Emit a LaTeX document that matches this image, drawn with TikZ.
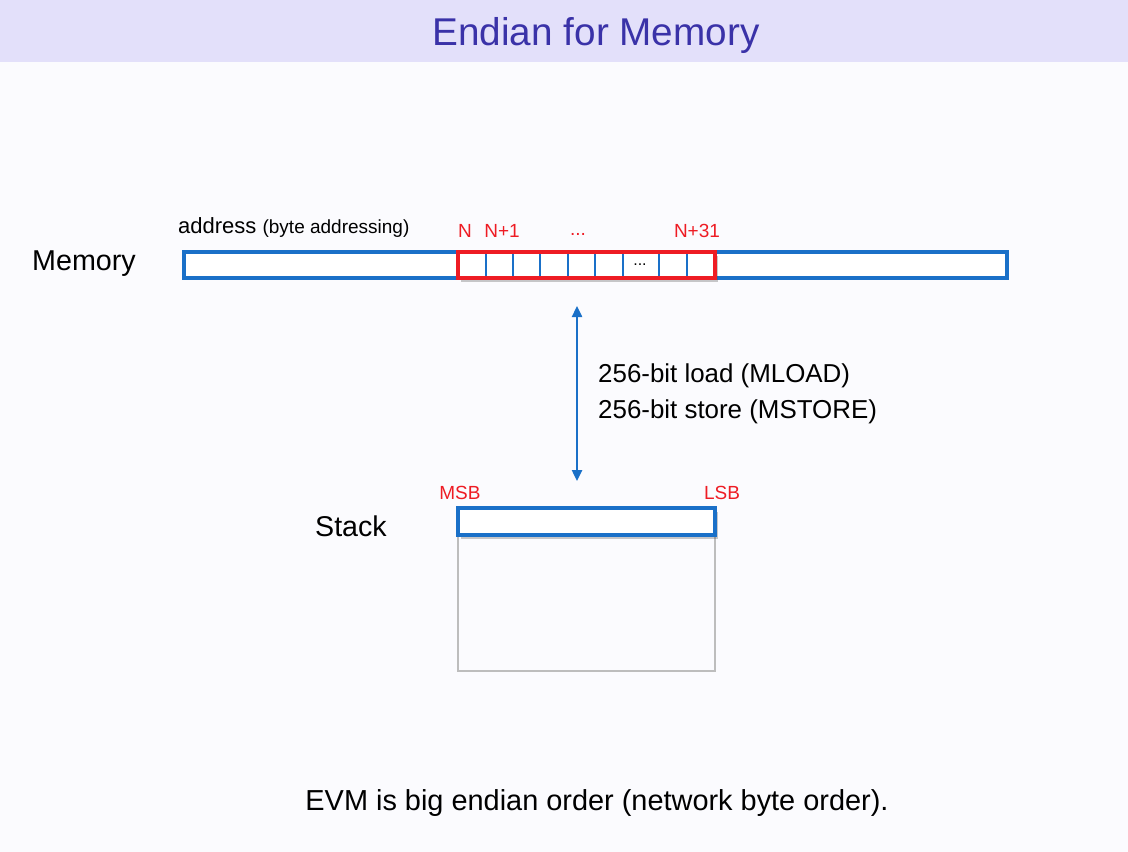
\documentclass[tikz,border=0pt]{standalone}
\usepackage{fontspec}
\setmainfont{Liberation Sans}
\usetikzlibrary{shadows,arrows.meta}
\definecolor{bg}{HTML}{FBFBFE}
\definecolor{band}{HTML}{E3E0FA}
\definecolor{titlec}{HTML}{3A32A8}
\definecolor{memblue}{HTML}{1A70C8}
\definecolor{memred}{HTML}{EE1C24}
\definecolor{stackgray}{HTML}{BDBDBD}
\tikzset{
  fs/.style={font=\fontsize{#1}{#1}\selectfont},
  bluebox/.style={draw=memblue,line width=3.2pt,fill=white},
  redbox/.style={draw=memred,line width=3.2pt},
  celldiv/.style={draw=memblue,line width=2.6pt},
  redlabel/.style={text=memred,fs=19,inner sep=0pt},
  sdw/.style={drop shadow={shadow xshift=3pt,shadow yshift=-4pt,opacity=0.3,fill=black!70}},
}
\begin{document}
\begin{tikzpicture}[x=1pt,y=-1pt]
\fill[bg] (0,0) rectangle (1128,852);
\useasboundingbox (0,0) rectangle (1128,852);
\fill[band] (0,0) rectangle (1128,62);
\node[text=titlec,fs=38.7,inner sep=0pt] (title) at (596,35) {Endian for Memory};
% memory
\node[anchor=west,fs=28.7,inner sep=0pt] (memlbl) at (32,264) {Memory};
\node[anchor=west,fs=22,inner sep=0pt] (addr) at (178,227) {address {\fontsize{19}{19}\selectfont (byte addressing)}};
\draw[bluebox] (184,252) rectangle (1007,278);
\node[draw=none,fill=white,sdw,minimum width=257pt,minimum height=26pt,inner sep=0pt] (word) at (586.5,265) {};
\foreach \x in {486,513,540,568,595,623,659,687}{
  \draw[celldiv] (\x,252) -- (\x,278);
}
\draw[redbox] (458,252) rectangle (715,278);
\node[fs=16,inner sep=0pt] (celldots) at (640,265) {...};
\node[redlabel] (n0) at (465,231) {N};
\node[redlabel] (n1) at (502,231) {N+1};
\node[redlabel] (ndots) at (578,234) {...};
\node[redlabel] (n31) at (697,231) {N+31};
% arrow
\coordinate (atop) at (577,306);
\coordinate (abot) at (577,481);
\draw[memblue,line width=2.4pt,{Triangle[length=11pt,width=10pt]}-{Triangle[length=11pt,width=10pt]}] (atop) -- (abot);
\node[anchor=west,fs=25.9,inner sep=0pt] (load) at (598,376) {256-bit load (MLOAD)};
\node[anchor=west,fs=25.9,inner sep=0pt] (store) at (598,412) {256-bit store (MSTORE)};
% stack
\node[anchor=west,fs=28.6,inner sep=0pt] (stacklbl) at (315,526) {Stack};
\draw[stackgray,line width=2pt] (458,535) rectangle (715,671);
\node[bluebox,sdw,minimum width=257pt,minimum height=27pt,inner sep=0pt] (top) at (586.5,521.5) {};
\node[redlabel] (msb) at (460,493) {MSB};
\node[redlabel] (lsb) at (722,493) {LSB};
% bottom
\node[fs=28.9,inner sep=0pt] (note) at (597,803) {EVM is big endian order (network byte order).};
\end{tikzpicture}
\end{document}
